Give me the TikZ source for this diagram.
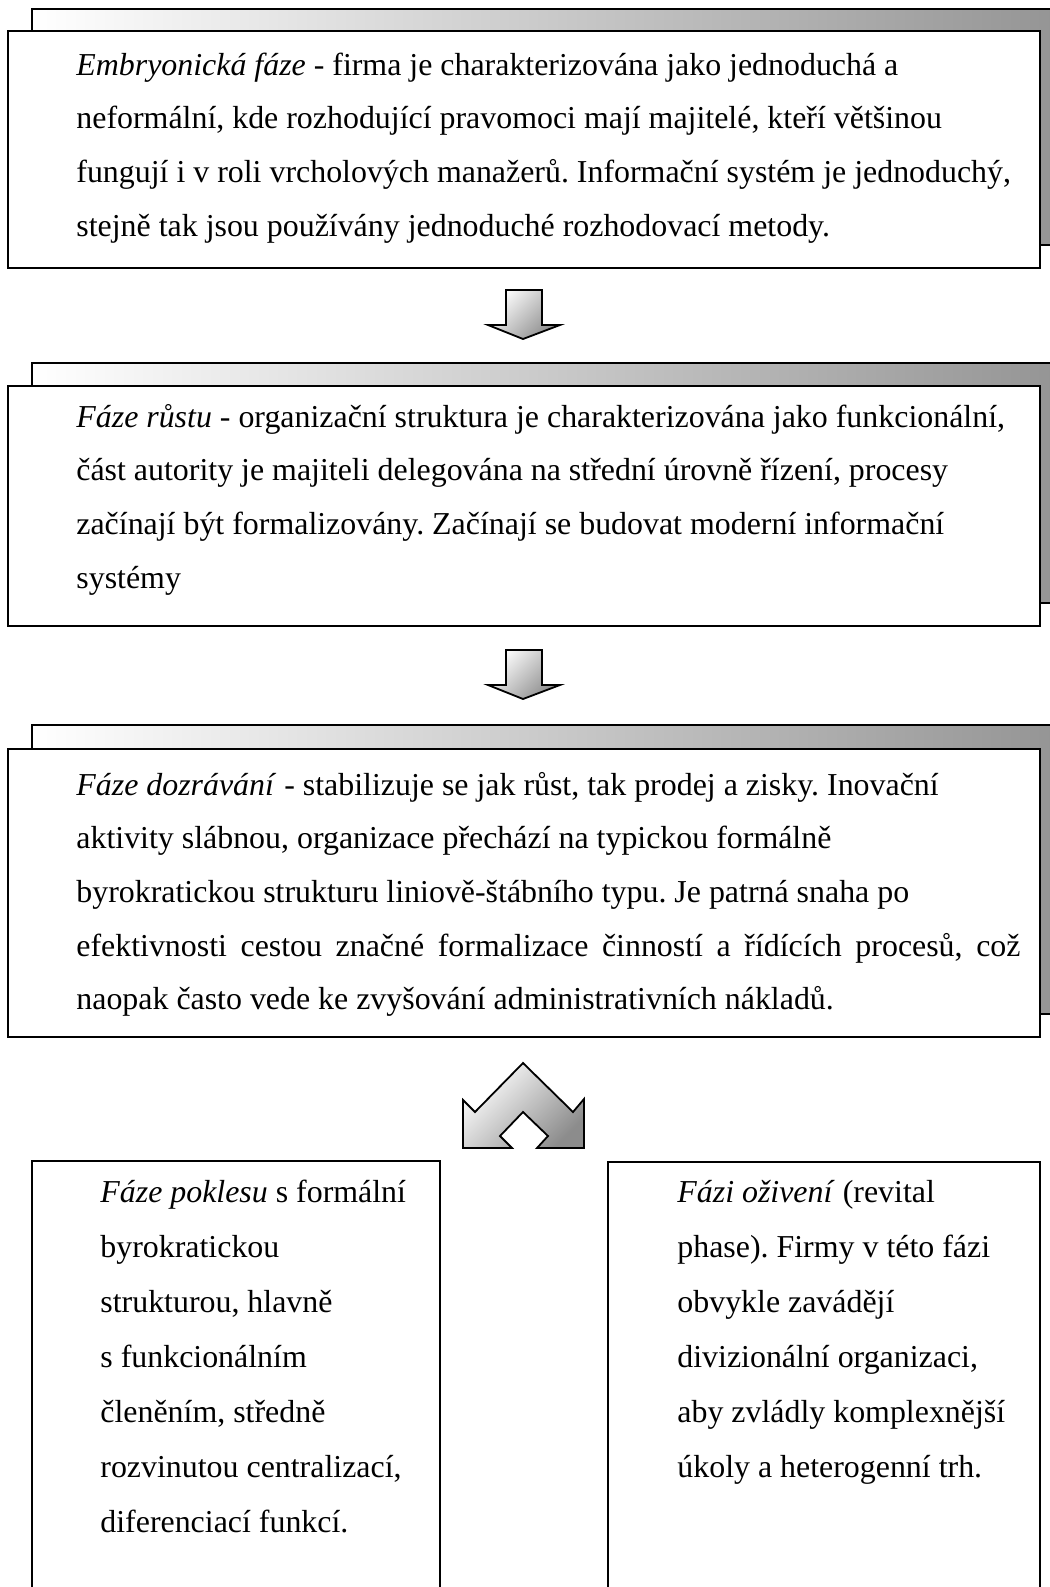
\documentclass[tikz,border=0pt]{standalone}
\usepackage{fontspec}
\setmainfont{Liberation Serif}
\usetikzlibrary{fit}

% paragraph set line by line with a fixed line pitch
\newcommand{\phasepar}[2]{\parbox[t]{600pt}{\raggedright\frenchspacing\fontsize{15.95pt}{#1}\selectfont #2}}

\tikzset{
  backbox/.style={draw=black, line width=1pt, left color=white, right color=black!42, inner sep=0pt},
  frontbox/.style={draw=black, line width=1pt, fill=white, inner sep=0pt},
  plainbox/.style={draw=black, line width=1.2pt, fill=white, inner sep=0pt},
  bodytext/.style={inner sep=0pt, anchor=base west},
  blockarrow/.style={draw=black, line width=0.9pt, line join=miter, top color=white, bottom color=black!45, shading angle=45},
  downarrow/.pic={
    \draw[blockarrow] (-17,0) -- (19,0) -- (19,35) -- (37,35) -- (0,49) -- (-35,35) -- (-17,35) -- cycle;
  },
  splitarrow/.pic={
    \draw[blockarrow] (0,0) -- (-48,49) -- (-60,37) -- (-60,85) -- (-11,85) -- (-23,73) -- (0,49)
      -- (25,73) -- (14,85) -- (61,85) -- (61,36) -- (50,49) -- cycle;
  },
}

\begin{document}
\begin{tikzpicture}[x=0.5pt, y=-0.5pt]
  \clip (0,0) rectangle (1050,1587);

  % first phase
  \node[backbox, fit={(32,9) (1064,245)}] (back1) {};
  \node[frontbox, fit={(8,31) (1040,268)}] (box1) {};
  \node[bodytext] (text1) at (76,75) {\phasepar{26.85pt}{%
    \textit{Embryonická fáze} - firma je charakterizována jako jednoduchá a\\
    neformální, kde rozhodující pravomoci mají majitelé, kteří většinou\\
    fungují i v roli vrcholových manažerů. Informační systém je jednoduchý,\\
    stejně tak jsou používány jednoduché rozhodovací metody.}};

  \coordinate (arrow1) at (523,290);
  \pic at (arrow1) {downarrow};

  % second phase
  \node[backbox, fit={(32,363) (1064,603)}] (back2) {};
  \node[frontbox, fit={(8,386) (1040,626)}] (box2) {};
  \node[bodytext] (text2) at (76,427) {\phasepar{26.85pt}{%
    \textit{Fáze růstu} - organizační struktura je charakterizována jako funkcionální,\\
    část autority je majiteli delegována na střední úrovně řízení, procesy\\
    začínají být formalizovány. Začínají se budovat moderní informační\\
    systémy}};

  \coordinate (arrow2) at (523,650);
  \pic at (arrow2) {downarrow};

  % third phase
  \node[backbox, fit={(32,725) (1064,1014)}] (back3) {};
  \node[frontbox, fit={(8,749) (1040,1037)}] (box3) {};
  \node[bodytext] (text3) at (76,795) {\phasepar{26.85pt}{%
    \textit{Fáze dozrávání} - stabilizuje se jak růst, tak prodej a zisky. Inovační\\
    aktivity slábnou, organizace přechází na typickou formálně\\
    byrokratickou strukturu liniově-štábního typu. Je patrná snaha po\\
    \makebox[472pt][s]{efektivnosti cestou značné formalizace činností a řídících procesů, což}\\
    naopak často vede ke zvyšování administrativních nákladů.}};

  \coordinate (arrow3) at (523,1063);
  \pic at (arrow3) {splitarrow};

  % the two following phases
  \node[plainbox, fit={(32,1161) (440,1620)}] (box4) {};
  \node[bodytext] (text4) at (100,1202) {\phasepar{27.5pt}{%
    \textit{Fáze poklesu} s formální\\
    byrokratickou\\
    strukturou, hlavně\\
    s funkcionálním\\
    členěním, středně\\
    rozvinutou centralizací,\\
    diferenciací funkcí.}};

  \node[plainbox, fit={(608,1162) (1040,1620)}] (box5) {};
  \node[bodytext] (text5) at (677,1202) {\phasepar{27.5pt}{%
    \textit{Fázi oživení} (revital\\
    phase). Firmy v této fázi\\
    obvykle zavádějí\\
    divizionální organizaci,\\
    aby zvládly komplexnější\\
    úkoly a heterogenní trh.}};
\end{tikzpicture}
\end{document}
